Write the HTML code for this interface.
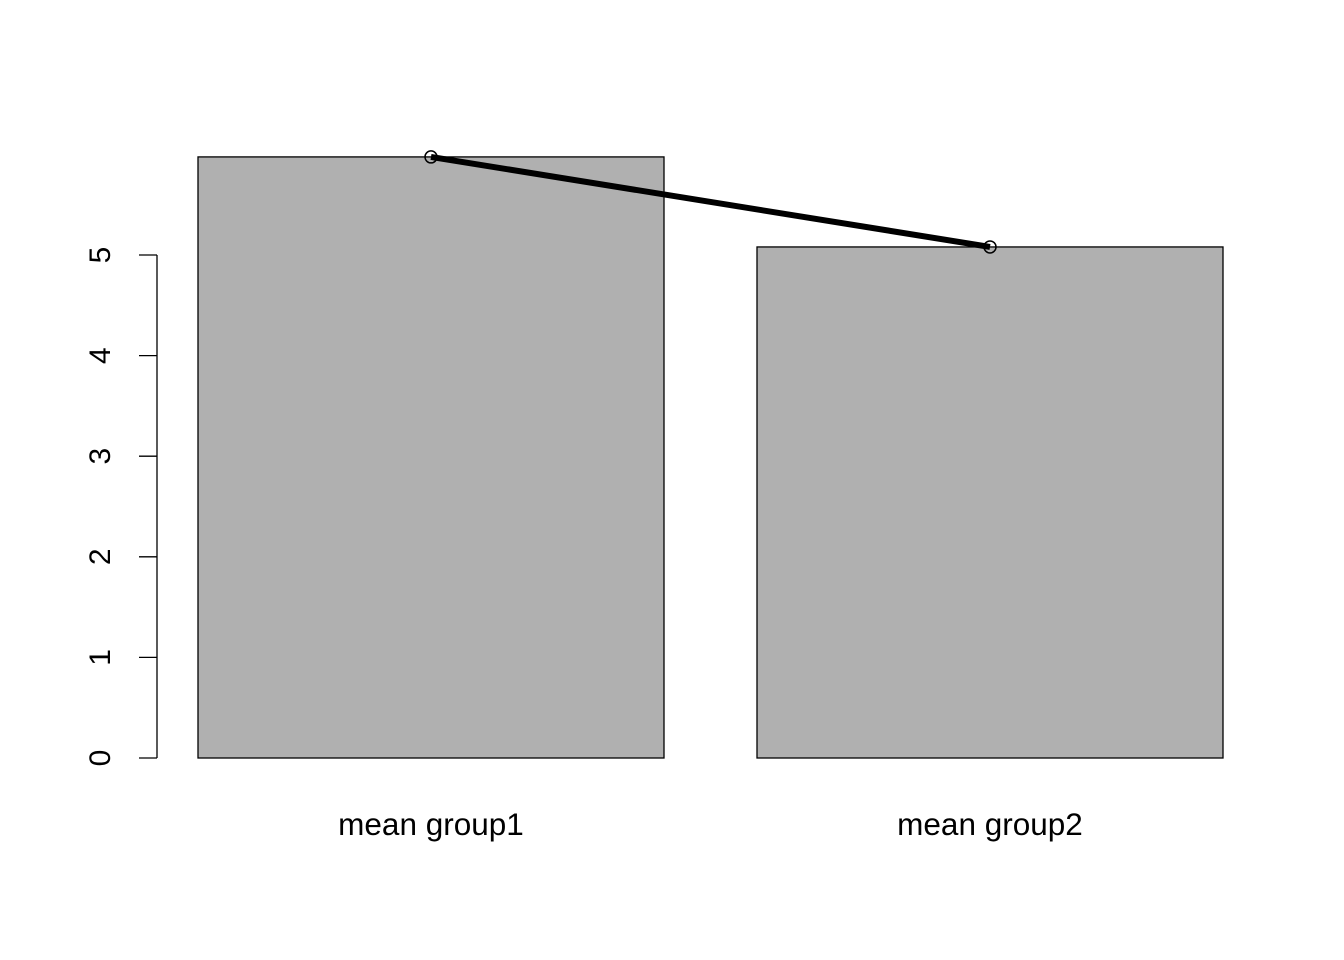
<!DOCTYPE html>
<html><head><meta charset="utf-8"><style>
html,body{margin:0;padding:0;background:#fff;}
svg{display:block;font-family:"Liberation Sans",Arial,sans-serif;}
</style></head><body>
<svg id="chart" width="1344" height="960" viewBox="0 0 1344 960" xmlns="http://www.w3.org/2000/svg"></svg>
<script>
const categories = ["mean group1", "mean group2"];
const values = [5.975, 5.08];
const yTicks = [0, 1, 2, 3, 4, 5];

const svg = document.getElementById('chart');
const NS = 'http://www.w3.org/2000/svg';
const y0 = 758, pxPerUnit = 100.6;
function yScale(v){ return y0 - v * pxPerUnit; }
const barLeft = 198, barWidth = 466, barStep = 559;
function xLeft(i){ return barLeft + i * barStep; }
function xCenter(i){ return xLeft(i) + barWidth / 2; }
function mk(tag, attrs){ const e = document.createElementNS(NS, tag); for (const k in attrs) e.setAttribute(k, attrs[k]); svg.appendChild(e); return e; }

values.forEach((v, i) => {
  const r = mk('rect', {x: xLeft(i), y: yScale(v), width: barWidth, height: y0 - yScale(v), fill: '#b0b0b0', stroke: '#000', 'stroke-width': 1.3});
  
  
  const t = mk('text', {x: xCenter(i), y: 835, 'font-size': 31.5, 'text-anchor': 'middle', fill: '#000'});
  t.textContent = categories[i];
  
  
});

const ax = mk('line', {x1: 157, x2: 157, y1: yScale(yTicks[0]), y2: yScale(yTicks[yTicks.length - 1]), stroke: '#000', 'stroke-width': 1.3});


yTicks.forEach(v => {
  const y = yScale(v);
  const tk = mk('line', {x1: 139, x2: 157, y1: y, y2: y, stroke: '#000', 'stroke-width': 1.3});
  
  
  const t = mk('text', {x: 110, y: y, 'font-size': 30, 'text-anchor': 'middle', transform: 'rotate(-90 110 ' + y + ')', fill: '#000'});
  t.textContent = v;
  
  
});

const pts = values.map((v, i) => xCenter(i) + ',' + yScale(v)).join(' ');
const line = mk('polyline', {points: pts, fill: 'none', stroke: '#000', 'stroke-width': 6});


values.forEach((v, i) => {
  const c = mk('circle', {cx: xCenter(i), cy: yScale(v), r: 6, fill: 'none', stroke: '#000', 'stroke-width': 1.5});
  
  
});
</script>
</body></html>
